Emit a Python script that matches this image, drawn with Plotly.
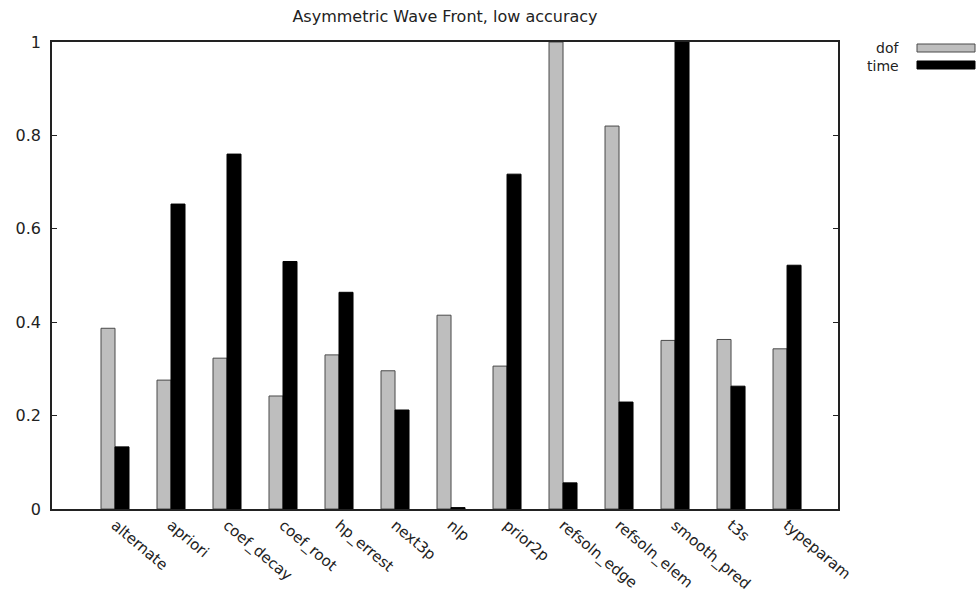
import plotly.graph_objects as go

# Normalised results per refinement strategy
categories = ["alternate", "apriori", "coef_decay", "coef_root", "hp_errest", "next3p",
              "nlp", "prior2p", "refsoln_edge", "refsoln_elem", "smooth_pred", "t3s", "typeparam"]
dof = [0.387, 0.276, 0.323, 0.242, 0.330, 0.296, 0.415, 0.306, 1.0, 0.820, 0.361, 0.363, 0.343]
time = [0.133, 0.653, 0.760, 0.530, 0.464, 0.212, 0.003, 0.717, 0.056, 0.229, 1.0, 0.263, 0.522]
series_names = ["dof", "time"]
y_ticks = [0, 0.2, 0.4, 0.6, 0.8, 1]
y_tick_text = ["0", "0.2", "0.4", "0.6", "0.8", "1"]

FONT = "DejaVu Sans, Verdana, sans-serif"
GRAY = "#bebebe"
x_idx = list(range(len(categories)))

fig = go.Figure()
fig.add_trace(go.Bar(x=x_idx, y=dof, name=series_names[0], marker=dict(color=GRAY, line=dict(color="#4a4a4a", width=1)),
                     showlegend=False))
fig.add_trace(go.Bar(x=x_idx, y=time, name=series_names[1], marker=dict(color="#000000", line=dict(color="#000000", width=1)),
                     showlegend=False))

L, R, T, B = 52, 140, 42, 89
W, H = 978, 598

fig.update_layout(
    width=W, height=H,
    margin=dict(l=L, r=R, t=T, b=B),
    paper_bgcolor="white", plot_bgcolor="white",
    barmode="group", bargap=0.5, bargroupgap=0,
    title=dict(text="Asymmetric Wave Front, low accuracy", x=0.5, xref="paper", xanchor="center",
               y=1 - 16 / H, yanchor="middle", font=dict(family=FONT, size=16, color="#222")),
    font=dict(family=FONT, color="#222"),
)

fig.update_xaxes(
    range=[-1.125, 12.91], tickmode="array", tickvals=x_idx, ticktext=categories,
    tickangle=40, tickfont=dict(size=15), ticks="", showgrid=False, zeroline=False,
    showline=True, linecolor="#222", linewidth=1.5, mirror=True, automargin=False,
)
fig.update_yaxes(
    range=[0, 1], tickmode="array", tickvals=y_ticks, ticktext=y_tick_text,
    tickfont=dict(size=16), ticks="inside", ticklen=5, tickcolor="#222", showgrid=False,
    zeroline=False, showline=True, linecolor="#222", linewidth=1.5, mirror="ticks",
    ticklabelstandoff=6, automargin=False,
)

# Key in the upper right: label text followed by a filled swatch (pixel positions)
pw, ph = W - L - R, H - T - B


def px_x(x):
    return (x - L) / pw


def px_y(y):
    return 1 - (y - T) / ph


key_colors = [GRAY, "#000000"]
key_lines = ["#4a4a4a", "#000000"]
for i, (name, fc, lc) in enumerate(zip(series_names, key_colors, key_lines)):
    yc = 48 + 17 * i
    fig.add_annotation(x=px_x(900), y=px_y(yc), xref="paper", yref="paper", text=name, showarrow=False,
                       xanchor="right", yanchor="middle", height=15, borderpad=0,
                       font=dict(size=14, color="#222"))
    fig.add_shape(type="rect", xref="paper", yref="paper", x0=px_x(917), x1=px_x(975),
                  y0=px_y(yc + 4), y1=px_y(yc - 4), fillcolor=fc, line=dict(color=lc, width=1))

fig.write_html("out.html")
